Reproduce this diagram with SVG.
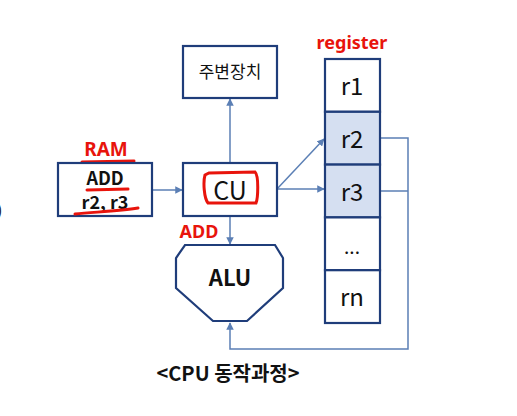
<svg xmlns="http://www.w3.org/2000/svg" width="517" height="416" viewBox="0 0 517 416">
<style>
.box{fill:#fff;stroke:#1f3d7a;stroke-width:2.2}
.reg{stroke:#1f3d7a;stroke-width:2.2}
.con{fill:none;stroke:#5b7fb5;stroke-width:1.5}
.t{font-family:"Noto Sans CJK KR","Noto Sans",sans-serif;fill:#111}
.red{fill:#e8140c;font-family:"Noto Sans","Liberation Sans",sans-serif;font-weight:bold}
.ink{fill:none;stroke:#e8140c;stroke-width:3;stroke-linecap:round}
</style>
<defs>
<marker id="ah" viewBox="0 0 10 10" refX="9" refY="5" markerWidth="5" markerHeight="5" orient="auto"><path d="M0,0L10,5L0,10z" fill="#5b7fb5"/></marker>
</defs>
<rect width="517" height="416" fill="#fff"/>
<text x="-3" y="216" class="t" font-size="16">)</text>
<g id="connectors">
<line class="con" x1="152" y1="190" x2="182" y2="190" marker-end="url(#ah)"/>
<line class="con" x1="230" y1="163" x2="230" y2="99" marker-end="url(#ah)"/>
<line class="con" x1="230" y1="216" x2="230" y2="244" marker-end="url(#ah)"/>
<line class="con" x1="277" y1="189" x2="324" y2="139" marker-end="url(#ah)"/>
<line class="con" x1="277" y1="189" x2="324" y2="189" marker-end="url(#ah)"/>
<polyline class="con" points="380,138 408,138 408,349 230,349 230,323" marker-end="url(#ah)"/>
<polyline class="con" points="380,191 408,191"/>
</g>
<g id="ram">
<text x="106" y="156" class="red" font-size="19" text-anchor="middle">RAM</text>
<path class="ink" d="M82,162 L134,161"/>
<rect class="box" x="58" y="163" width="94" height="53"/>
<text x="105" y="185" class="t" font-size="18" font-weight="bold" text-anchor="middle">ADD</text>
<path class="ink" d="M87,190 L128,189"/>
<text x="105" y="209" class="t" font-size="18" font-weight="bold" text-anchor="middle">r2, r3</text>
<path class="ink" d="M75,214 C95,212 120,211 138,208"/>
</g>
<g id="peripheral">
<rect class="box" x="183" y="46" width="94" height="52"/>
<text x="230" y="78" class="t" font-size="17" text-anchor="middle">주변장치</text>
</g>
<g id="cu">
<rect class="box" x="183" y="163" width="94" height="53"/>
<text x="230" y="200" class="t" font-size="25" text-anchor="middle">CU</text>
<path class="ink" d="M209,173 L255,172 C259,176 258,198 256,203 L208,203 C204,198 203,182 205,175 Z"/>
<text x="199" y="238" class="red" font-size="18" text-anchor="middle">ADD</text>
</g>
<g id="alu">
<polygon class="box" points="185,245 275,245 283,258 283,288 247,321 213,321 176,288 176,258"/>
<text x="230" y="286" class="t" font-size="22" font-weight="bold" text-anchor="middle">ALU</text>
</g>
<g id="register">
<text x="352" y="49" class="red" font-size="18" text-anchor="middle">register</text>
<rect class="reg" x="325" y="59" width="55" height="52.8" fill="#fff"/>
<rect class="reg" x="325" y="111.8" width="55" height="52.8" fill="#d5dff1"/>
<rect class="reg" x="325" y="164.6" width="55" height="52.8" fill="#d5dff1"/>
<rect class="reg" x="325" y="217.4" width="55" height="52.8" fill="#fff"/>
<rect class="reg" x="325" y="270.2" width="55" height="52.8" fill="#fff"/>
<text x="352" y="95" class="t" font-size="24" text-anchor="middle">r1</text>
<text x="352" y="148" class="t" font-size="24" text-anchor="middle">r2</text>
<text x="352" y="201" class="t" font-size="24" text-anchor="middle">r3</text>
<text x="352" y="254" class="t" font-size="19" text-anchor="middle">...</text>
<text x="352" y="306" class="t" font-size="24" text-anchor="middle">rn</text>
</g>
<text x="228" y="381" class="t" font-size="20" font-weight="bold" text-anchor="middle" fill="#222">&lt;CPU 동작과정&gt;</text>
</svg>
